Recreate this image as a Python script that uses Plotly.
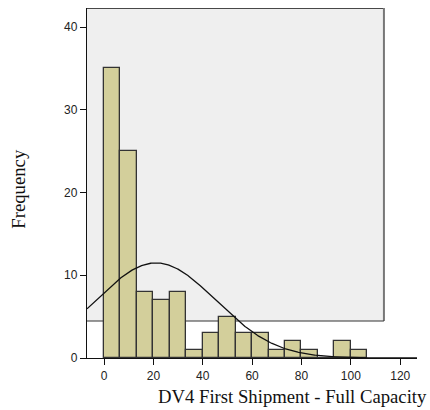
import numpy as np
import plotly.graph_objects as go

# Histogram data
bin_start = 0.0
bin_width = 20 / 3
counts = [35, 25, 8, 7, 8, 1, 3, 5, 3, 3, 1, 2, 1, 0, 2, 1]
n_total = sum(counts)

# Fitted normal curve parameters (estimated)
curve_mean = 21.0
curve_sd = 24.3

x_ticks = [0, 20, 40, 60, 80, 100, 120]
y_ticks = [0, 10, 20, 30, 40]
x_range = [-6.9, 126.8]
y_range = [0, 42.3]
frame_right = 113.4
frame_bottom = 4.47

x_title = "DV4 First Shipment - Full Capacity"
y_title = "Frequency"

centers = [bin_start + bin_width * (i + 0.5) for i in range(len(counts))]

xc = np.linspace(x_range[0], x_range[1], 400)
yc = n_total * bin_width / (curve_sd * np.sqrt(2 * np.pi)) * np.exp(-0.5 * ((xc - curve_mean) / curve_sd) ** 2)

fig = go.Figure()
fig.add_trace(go.Bar(
    x=centers, y=counts, width=bin_width,
    marker=dict(color="#D3CF9B", line=dict(color="#333333", width=1.3)),
    hoverinfo="x+y", showlegend=False,
))
fig.add_trace(go.Scatter(
    x=xc, y=yc, mode="lines", line=dict(color="#111111", width=1.3),
    showlegend=False, hoverinfo="skip",
))

shapes = [
    dict(type="rect", xref="x", yref="y", x0=x_range[0], x1=frame_right,
         y0=frame_bottom, y1=y_range[1], fillcolor="#EFEFEF", line=dict(width=0), layer="below"),
    dict(type="line", xref="x", yref="y", x0=x_range[0], x1=frame_right,
         y0=y_range[1], y1=y_range[1], line=dict(color="#111111", width=1.5), layer="below"),
    dict(type="line", xref="x", yref="y", x0=frame_right, x1=frame_right,
         y0=frame_bottom, y1=y_range[1], line=dict(color="#777777", width=2), layer="below"),
    dict(type="line", xref="x", yref="y", x0=x_range[0], x1=frame_right,
         y0=frame_bottom, y1=frame_bottom, line=dict(color="#333333", width=1), layer="below"),
]

tick_font = dict(family="Liberation Sans, Arial", size=12, color="#222222")
title_font = dict(family="Liberation Serif, Times New Roman", size=18.7, color="#111111")

fig.update_layout(
    width=430, height=410,
    margin=dict(l=87, r=13, t=8, b=52),
    paper_bgcolor="white", plot_bgcolor="white",
    bargap=0, shapes=shapes,
    xaxis=dict(range=x_range, tickvals=x_ticks, showgrid=False, zeroline=False,
               showline=True, linecolor="#111111", linewidth=1.3,
               ticks="outside", ticklen=6, tickcolor="#111111", tickwidth=1,
               tickfont=tick_font),
    yaxis=dict(range=y_range, tickvals=y_ticks, showgrid=False, zeroline=False,
               showline=True, linecolor="#111111", linewidth=1.3,
               ticks="outside", ticklen=6, tickcolor="#111111", tickwidth=1,
               tickfont=tick_font),
    annotations=[
        dict(text=y_title, xref="paper", yref="paper", x=-0.207, y=0.483,
             textangle=-90, showarrow=False, xanchor="center", yanchor="middle",
             font=title_font),
        dict(text=x_title, xref="paper", yref="paper", x=0.623, y=-0.111,
             showarrow=False, xanchor="center", yanchor="middle",
             font=title_font),
    ],
)

fig.write_html("out.html", config={"displayModeBar": False},
               post_script="document.body.style.margin='0';document.body.style.overflow='hidden';")
